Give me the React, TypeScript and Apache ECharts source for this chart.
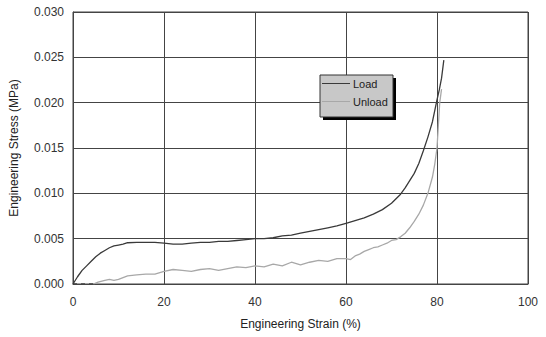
import React, { useEffect, useRef } from "react";
import * as echarts from "echarts";

const loadStrain = [0, 1, 2, 3, 4, 5, 6, 7, 8, 9, 10, 11, 12, 14, 16, 18, 20, 22, 24, 26, 28, 30, 32, 34, 36, 38, 40, 42, 44, 46, 48, 50, 52, 54, 56, 58, 60, 62, 64, 66, 68, 70, 72, 73, 74, 75, 76, 77, 78, 79, 80, 80.5, 81, 81.5];
const loadStress = [0, 0.0008, 0.0015, 0.002, 0.0025, 0.003, 0.0034, 0.0037, 0.004, 0.0042, 0.0043, 0.0044, 0.00455, 0.0046, 0.0046, 0.0046, 0.0045, 0.0044, 0.0044, 0.0045, 0.0046, 0.0046, 0.0047, 0.0047, 0.0048, 0.0049, 0.005, 0.005, 0.0051, 0.0053, 0.0054, 0.0056, 0.0058, 0.006, 0.0062, 0.0064, 0.0067, 0.007, 0.0073, 0.0077, 0.0082, 0.0089, 0.0099, 0.0106, 0.0114, 0.0122, 0.0133, 0.0147, 0.0162, 0.0179, 0.0203, 0.0214, 0.0227, 0.0247];

const unloadStrain = [4.5, 5.5, 7, 8, 9, 10, 11, 12, 14, 16, 18, 20, 22, 24, 26, 28, 30, 32, 34, 36, 38, 40, 42, 44, 46, 48, 50, 52, 54, 56, 58, 60, 61, 62, 63, 64, 65, 66, 67, 68, 69, 70, 71, 72, 73, 74, 75, 76, 77, 78, 79, 79.5, 80, 80.3, 80.6, 81];
const unloadStress = [0, 0.0002, 0.0004, 0.0005, 0.0004, 0.0005, 0.0007, 0.0009, 0.001, 0.0011, 0.0011, 0.0014, 0.0016, 0.0015, 0.0014, 0.0016, 0.0017, 0.0015, 0.0017, 0.0019, 0.0018, 0.002, 0.0019, 0.0022, 0.002, 0.0024, 0.0021, 0.0024, 0.0026, 0.0025, 0.0028, 0.0028, 0.0027, 0.0031, 0.0033, 0.0036, 0.0038, 0.004, 0.0041, 0.0043, 0.0045, 0.0048, 0.0049, 0.0052, 0.0056, 0.0062, 0.0069, 0.0077, 0.0087, 0.01, 0.0118, 0.0132, 0.015, 0.0175, 0.02, 0.0215];

const baseStrain = [0, 5];
const baseStress = [0, 0];

const zip = (xs: number[], ys: number[]) => xs.map((x, i) => [x, ys[i]]);

const FONT = "Liberation Sans, Arial, sans-serif";

export default function App() {
  const ref = useRef<HTMLDivElement>(null);
  useEffect(() => {
    if (!ref.current) return;
    const chart = echarts.init(ref.current, null, { renderer: "svg" });
    chart.setOption({
      animation: false,
      backgroundColor: "#ffffff",
      grid: { left: 71, right: 18, top: 12, bottom: 53, show: true, borderColor: "#444", borderWidth: 1 },
      xAxis: {
        type: "value",
        min: 0,
        max: 100,
        interval: 20,
        name: "Engineering Strain (%)",
        nameLocation: "middle",
        nameGap: 34,
        nameTextStyle: { fontFamily: FONT, fontSize: 12, color: "#222" },
        axisLine: { show: true, lineStyle: { color: "#444" } },
        axisTick: { show: false },
        axisLabel: { fontFamily: FONT, fontSize: 12, color: "#333", margin: 12 },
        splitLine: { show: true, lineStyle: { color: "#444", width: 1 } },
      },
      yAxis: {
        type: "value",
        min: 0,
        max: 0.03,
        interval: 0.005,
        name: "Engineering Stress (MPa)",
        nameLocation: "middle",
        nameGap: 53,
        nameTextStyle: { fontFamily: FONT, fontSize: 12, color: "#222" },
        axisLine: { show: true, lineStyle: { color: "#444" } },
        axisTick: { show: false },
        axisLabel: { fontFamily: FONT, fontSize: 12, color: "#333", margin: 9, formatter: (v: number) => v.toFixed(3) },
        splitLine: { show: true, lineStyle: { color: "#444", width: 1 } },
      },
      graphic: [
        { type: "rect", z: 5, shape: { x: 323, y: 78, width: 73, height: 42 }, style: { fill: "#000" } },
        { type: "rect", z: 5, shape: { x: 320, y: 75, width: 73, height: 42 }, style: { fill: "#c8c8c8", stroke: "#333", lineWidth: 1 } },
      ],
      legend: {
        z: 6,
        orient: "vertical",
        left: 322,
        top: 78,
        padding: 0,
        itemGap: 7,
        itemWidth: 28,
        itemHeight: 1,
        icon: "rect",
        data: ["Load", "Unload"],
        textStyle: { fontFamily: FONT, fontSize: 11, color: "#222", padding: [0, 0, 0, -2] },
      },
      series: [
        {
          name: "Load",
          type: "line",
          data: zip(loadStrain, loadStress),
          showSymbol: false,
          symbol: "none",
          lineStyle: { color: "#3a3a3a", width: 1.3 },
          itemStyle: { color: "#3a3a3a" },
          z: 4,
        },
        {
          name: "Unload",
          type: "line",
          data: zip(unloadStrain, unloadStress),
          showSymbol: false,
          symbol: "none",
          lineStyle: { color: "#a8a8a8", width: 1.3 },
          itemStyle: { color: "#a8a8a8" },
          z: 3,
        },
        {
          name: "base",
          type: "line",
          data: zip(baseStrain, baseStress),
          showSymbol: false,
          symbol: "none",
          lineStyle: { color: "#444", width: 1.3, type: [4, 4] },
          z: 3,
        },
      ],
    });
    return () => chart.dispose();
  }, []);
  return <div ref={ref} style={{ width: 546, height: 337, position: "absolute", left: 0, top: 0 }} />;
}
